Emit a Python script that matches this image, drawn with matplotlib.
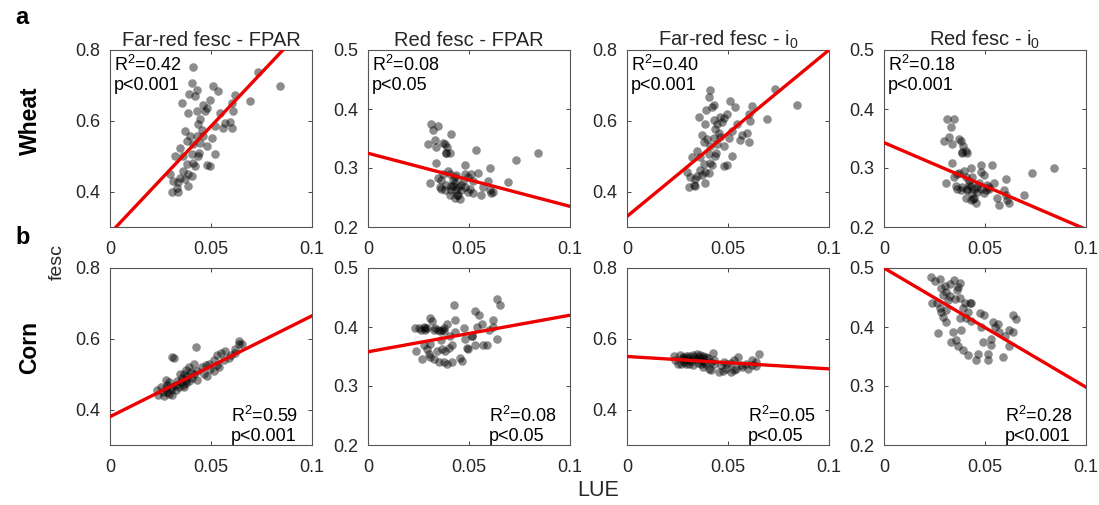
import numpy as np
from matplotlib import pyplot as plt

#-------------------------------------------------------
# Data
#-------------------------------------------------------

wheat_lue = [0.0297, 0.0305, 0.0313, 0.0322, 0.0330, 0.0338, 0.0338, 0.0346, 0.0346, 0.0355,
             0.0363, 0.0363, 0.0371, 0.0371, 0.0379, 0.0379, 0.0388, 0.0388, 0.0388, 0.0393,
             0.0396, 0.0404, 0.0404, 0.0404, 0.0412, 0.0413, 0.0421, 0.0421, 0.0429, 0.0429,
             0.0429, 0.0437, 0.0437, 0.0446, 0.0446, 0.0454, 0.0462, 0.0462, 0.0470, 0.0479,
             0.0479, 0.0495, 0.0495, 0.0503, 0.0512, 0.0520, 0.0520, 0.0536, 0.0545, 0.0561,
             0.0570, 0.0594, 0.0602, 0.0602, 0.0610, 0.0619, 0.0693, 0.0734, 0.0842, 0.0480,
             0.0440, 0.0410]

wheat_fr_fpar = [0.449, 0.398, 0.430, 0.501, 0.411, 0.426, 0.398, 0.439, 0.524, 0.650,
                 0.501, 0.458, 0.571, 0.435, 0.543, 0.477, 0.622, 0.449, 0.416, 0.676,
                 0.557, 0.706, 0.505, 0.445, 0.753, 0.534, 0.669, 0.473, 0.688, 0.627,
                 0.557, 0.590, 0.501, 0.604, 0.538, 0.575, 0.646, 0.557, 0.627, 0.636,
                 0.529, 0.660, 0.473, 0.552, 0.699, 0.585, 0.505, 0.683, 0.622, 0.580,
                 0.595, 0.596, 0.650, 0.580, 0.627, 0.674, 0.655, 0.739, 0.697, 0.475,
                 0.510, 0.480]

wheat_red_fpar = [0.340, 0.275, 0.375, 0.365, 0.348, 0.308, 0.335, 0.372, 0.283, 0.268,
                  0.280, 0.265, 0.343, 0.290, 0.262, 0.340, 0.325, 0.272, 0.325, 0.335,
                  0.295, 0.255, 0.325, 0.290, 0.358, 0.262, 0.270, 0.280, 0.285, 0.250,
                  0.275, 0.262, 0.288, 0.268, 0.255, 0.248, 0.272, 0.262, 0.278, 0.305,
                  0.268, 0.285, 0.260, 0.265, 0.290, 0.278, 0.258, 0.330, 0.292, 0.255,
                  0.268, 0.278, 0.300, 0.262, 0.258, 0.260, 0.277, 0.313, 0.325, 0.290,
                  0.255, 0.270]

wheat_fr_i0 = [0.455, 0.412, 0.440, 0.498, 0.420, 0.435, 0.415, 0.445, 0.515, 0.612,
               0.498, 0.460, 0.560, 0.448, 0.540, 0.478, 0.590, 0.455, 0.425, 0.630,
               0.548, 0.667, 0.505, 0.452, 0.688, 0.530, 0.640, 0.475, 0.645, 0.602,
               0.552, 0.578, 0.500, 0.590, 0.535, 0.565, 0.612, 0.555, 0.598, 0.608,
               0.528, 0.620, 0.475, 0.550, 0.655, 0.572, 0.500, 0.640, 0.590, 0.545,
               0.560, 0.565, 0.618, 0.540, 0.600, 0.642, 0.605, 0.690, 0.645, 0.472,
               0.508, 0.480]

wheat_red_i0 = [0.345, 0.275, 0.383, 0.352, 0.370, 0.308, 0.340, 0.383, 0.285, 0.270,
                0.290, 0.265, 0.350, 0.292, 0.262, 0.345, 0.325, 0.268, 0.327, 0.338,
                0.295, 0.250, 0.328, 0.285, 0.325, 0.262, 0.272, 0.278, 0.300, 0.245,
                0.270, 0.258, 0.285, 0.265, 0.250, 0.240, 0.268, 0.260, 0.275, 0.305,
                0.265, 0.288, 0.258, 0.262, 0.272, 0.268, 0.265, 0.305, 0.275, 0.250,
                0.237, 0.262, 0.282, 0.255, 0.245, 0.240, 0.255, 0.292, 0.300, 0.293,
                0.248, 0.265]

corn_lue = [0.0235, 0.0240, 0.0250, 0.0263, 0.0268, 0.0276, 0.0276, 0.0283, 0.0292, 0.0292,
            0.0300, 0.0305, 0.0309, 0.0309, 0.0317, 0.0325, 0.0325, 0.0333, 0.0341, 0.0345,
            0.0352, 0.0358, 0.0360, 0.0366, 0.0366, 0.0374, 0.0374, 0.0374, 0.0382, 0.0390,
            0.0390, 0.0400, 0.0407, 0.0415, 0.0415, 0.0425, 0.0432, 0.0432, 0.0456, 0.0464,
            0.0473, 0.0480, 0.0490, 0.0497, 0.0514, 0.0514, 0.0530, 0.0530, 0.0539, 0.0550,
            0.0563, 0.0570, 0.0588, 0.0600, 0.0621, 0.0637, 0.0637, 0.0654, 0.0620, 0.0280]

corn_fr_fpar = [0.455, 0.440, 0.465, 0.450, 0.438, 0.485, 0.460, 0.470, 0.445, 0.478,
                0.455, 0.549, 0.465, 0.440, 0.545, 0.470, 0.455, 0.480, 0.465, 0.500,
                0.478, 0.490, 0.470, 0.500, 0.465, 0.512, 0.485, 0.475, 0.495, 0.520,
                0.480, 0.505, 0.490, 0.530, 0.500, 0.578, 0.510, 0.485, 0.520, 0.500,
                0.525, 0.495, 0.530, 0.515, 0.540, 0.510, 0.525, 0.555, 0.520, 0.560,
                0.540, 0.565, 0.545, 0.555, 0.570, 0.595, 0.585, 0.585, 0.560, 0.450]

corn_red_fpar = [0.398, 0.360, 0.398, 0.395, 0.345, 0.400, 0.370, 0.395, 0.362, 0.398,
                 0.355, 0.415, 0.350, 0.372, 0.410, 0.395, 0.345, 0.398, 0.360, 0.395,
                 0.340, 0.394, 0.378, 0.395, 0.362, 0.398, 0.340, 0.394, 0.360, 0.405,
                 0.338, 0.365, 0.385, 0.340, 0.370, 0.437, 0.412, 0.392, 0.348, 0.342,
                 0.398, 0.380, 0.365, 0.362, 0.385, 0.385, 0.427, 0.370, 0.400, 0.420,
                 0.405, 0.370, 0.370, 0.395, 0.412, 0.448, 0.380, 0.437, 0.400, 0.398]

corn_fr_i0 = [0.552, 0.540, 0.528, 0.555, 0.528, 0.550, 0.545, 0.535, 0.552, 0.530,
              0.545, 0.540, 0.528, 0.552, 0.538, 0.555, 0.525, 0.548, 0.542, 0.558,
              0.532, 0.548, 0.555, 0.540, 0.530, 0.552, 0.520, 0.545, 0.535, 0.550,
              0.528, 0.545, 0.515, 0.535, 0.512, 0.560, 0.540, 0.528, 0.505, 0.525,
              0.510, 0.535, 0.515, 0.530, 0.505, 0.532, 0.512, 0.540, 0.515, 0.548,
              0.525, 0.520, 0.530, 0.515, 0.525, 0.535, 0.522, 0.556, 0.540, 0.540]

corn_red_i0 = [0.485, 0.440, 0.478, 0.440, 0.390, 0.482, 0.432, 0.466, 0.455, 0.417,
               0.470, 0.460, 0.409, 0.428, 0.445, 0.473, 0.452, 0.375, 0.392, 0.480,
               0.447, 0.378, 0.462, 0.367, 0.468, 0.474, 0.449, 0.416, 0.395, 0.361,
               0.432, 0.440, 0.416, 0.352, 0.426, 0.440, 0.410, 0.440, 0.344, 0.355,
               0.423, 0.400, 0.375, 0.421, 0.344, 0.355, 0.380, 0.370, 0.409, 0.400,
               0.405, 0.392, 0.350, 0.384, 0.367, 0.392, 0.420, 0.413, 0.395, 0.425]

titles = ["Far-red fesc - FPAR", "Red fesc - FPAR", "Far-red fesc - i$_0$", "Red fesc - i$_0$"]

# regression lines (intercept, slope)
wheat_fits = [(0.282, 6.05), (0.325, -0.90), (0.330, 4.70), (0.343, -1.47)]
corn_fits = [(0.380, 2.85), (0.358, 0.62), (0.550, -0.35), (0.500, -2.02)]

wheat_r2 = ["0.42", "0.08", "0.40", "0.18"]
wheat_p = ["p<0.001", "p<0.05", "p<0.001", "p<0.001"]
corn_r2 = ["0.59", "0.08", "0.05", "0.28"]
corn_p = ["p<0.001", "p<0.05", "p<0.05", "p<0.001"]

#-------------------------------------------------------
# Plotting
#-------------------------------------------------------

plt.rcParams['font.family'] = ['Liberation Sans', 'DejaVu Sans']
plt.rcParams['mathtext.fontset'] = 'custom'
plt.rcParams['mathtext.rm'] = 'Liberation Sans'
plt.rcParams['mathtext.it'] = 'Liberation Sans'

W, H = 1099, 505
fig = plt.figure(figsize=(W / 100, H / 100), dpi=100)

col_left = [110, 368, 627, 884]
ax_w = 202
row_top = [50, 268]
ax_h = 177

ylims = [(0.3, 0.8), (0.2, 0.5), (0.3, 0.8), (0.2, 0.5)]
yticks = [[0.4, 0.6, 0.8], [0.2, 0.3, 0.4, 0.5], [0.4, 0.6, 0.8], [0.2, 0.3, 0.4, 0.5]]

rows = [
    (wheat_lue, [wheat_fr_fpar, wheat_red_fpar, wheat_fr_i0, wheat_red_i0], wheat_fits, wheat_r2, wheat_p),
    (corn_lue, [corn_fr_fpar, corn_red_fpar, corn_fr_i0, corn_red_i0], corn_fits, corn_r2, corn_p),
]

gray = "#262626"

for r, (lue, ys, fits, r2s, ps) in enumerate(rows):
    for c in range(4):
        ax = fig.add_axes([col_left[c] / W, 1 - (row_top[r] + ax_h) / H, ax_w / W, ax_h / H])
        ax.scatter(lue, ys[c], s=38, color="black", alpha=0.45, linewidths=0, zorder=2)
        b, m = fits[c]
        xs = np.array([0, 0.1])
        ax.plot(xs, b + m * xs, color="#ee0000", lw=2.4, zorder=3)
        ax.set_xlim(0, 0.1)
        ax.set_ylim(*ylims[c])
        ax.set_xticks([0, 0.05, 0.1])
        ax.set_xticklabels(["0", "0.05", "0.1"])
        ax.set_yticks(yticks[c])
        ax.set_yticklabels([f"{v:g}" for v in yticks[c]])
        ax.tick_params(direction="in", top=True, right=True, length=3, width=0.6,
                       labelsize=13, colors=gray)
        ax.tick_params(axis="x", pad=10)
        ax.tick_params(axis="y", pad=7)
        for sp in ax.spines.values():
            sp.set_color("#555555")
            sp.set_linewidth(0.8)
        label = f"R$^2$=" + r2s[c] + "\n" + ps[c]
        if r == 0:
            ax.set_title(titles[c], fontsize=14.5, color=gray, pad=3)
            ax.text(0.02, 0.975, label, transform=ax.transAxes, ha="left", va="top",
                    fontsize=13, color="black", linespacing=1.18)
        else:
            ax.text(0.6, 0.0, label, transform=ax.transAxes, ha="left", va="bottom",
                    fontsize=13, color="black", linespacing=1.18)

fig.text(15 / W, 1 - 18 / H, "a", fontsize=17, fontweight="bold", va="center", ha="left")
fig.text(15 / W, 1 - 238 / H, "b", fontsize=17, fontweight="bold", va="center", ha="left")
fig.text(30 / W, 1 - 121 / H, "Wheat", fontsize=16.5, fontweight="bold", rotation=90,
         va="center", ha="center")
fig.text(30 / W, 1 - 347 / H, "Corn", fontsize=16.5, fontweight="bold", rotation=90,
         va="center", ha="center")
fig.text(57 / W, 1 - 262 / H, "fesc", fontsize=14, rotation=90, va="center", ha="center",
         color=gray)
fig.text(598 / W, 1 - 490 / H, "LUE", fontsize=15.5, va="center", ha="center", color=gray)

fig.savefig("out.png", dpi=100)
